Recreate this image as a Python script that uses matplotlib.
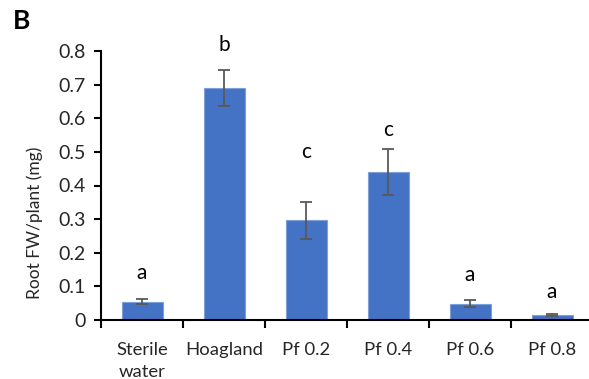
import numpy as np
import matplotlib
matplotlib.use('Agg')
import matplotlib.pyplot as plt

# root fresh weight per plant (mg), mean and error
treatments = ['Sterile\nwater', 'Hoagland', 'Pf 0.2', 'Pf 0.4', 'Pf 0.6', 'Pf 0.8']
root_fw = [0.054, 0.690, 0.296, 0.440, 0.048, 0.014]
root_err = [0.007, 0.054, 0.056, 0.068, 0.010, 0.003]
groups = ['a', 'b', 'c', 'c', 'a', 'a']
group_y = [0.140, 0.818, 0.500, 0.565, 0.134, 0.083]

plt.rcParams['font.family'] = ['Lato', 'DejaVu Sans']

dpi = 100
fig = plt.figure(figsize=(589 / dpi, 379 / dpi), dpi=dpi)
ax = fig.add_axes([101 / 589, 59 / 379, 492 / 589, 269 / 379])

x = np.arange(len(treatments))
ax.bar(x, root_fw, width=0.5, color='#4472c4', edgecolor='#7f9fd8', linewidth=0.8,
       zorder=2)
ax.errorbar(x, root_fw, yerr=root_err, fmt='none', ecolor='#595959',
            elinewidth=1.3, capsize=4, capthick=1.3, zorder=3)

for xi, g, gy in zip(x, groups, group_y):
    ax.text(xi, gy, g, ha='center', va='center', fontsize=15, color='black')

ax.set_xlim(-0.5, len(treatments) - 0.5)
ax.set_ylim(0, 0.8)
ax.set_yticks(np.arange(0, 0.81, 0.1))
ax.set_yticklabels(['0'] + ['%.1f' % v for v in np.arange(0.1, 0.81, 0.1)])
ax.set_xticks(x)
ax.set_xticklabels(treatments, linespacing=1.45)
ax.set_xticks(np.arange(-0.5, len(treatments)), minor=True)
ax.tick_params(axis='x', which='major', length=0, pad=16, labelsize=13.3)
ax.tick_params(axis='x', which='minor', length=6, width=1.5, direction='out')
ax.tick_params(axis='y', length=5, width=1.5, labelsize=14, pad=6)
for lbl in ax.get_xticklabels() + ax.get_yticklabels():
    lbl.set_color('#262626')

for loc in 'top', 'right':
    ax.spines[loc].set_visible(False)
ax.spines['left'].set_linewidth(1.5)
ax.spines['bottom'].set_linewidth(1.5)

ax.set_ylabel('Root FW/plant (mg)', fontsize=12.5, color='#262626')
ax.yaxis.set_label_coords(-58 / 492, (379 - 59 - 223) / 269)
fig.text(13 / 589, 1 - 21 / 379, 'B', fontsize=19, fontweight='bold',
         va='center', ha='left')

fig.savefig('out.png', dpi=dpi)
